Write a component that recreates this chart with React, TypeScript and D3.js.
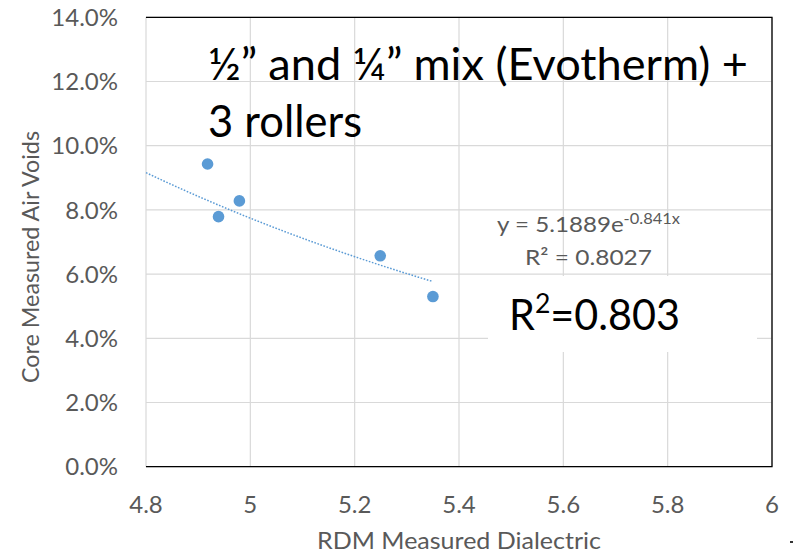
import React from "react";
import * as d3 from "d3";

// RDM dielectric vs. core air voids (fraction)
const dielectric = [4.918, 4.939, 4.979, 5.249, 5.35];
const airVoids = [0.0943, 0.0779, 0.0828, 0.0657, 0.053];

const xTicks = [4.8, 5, 5.2, 5.4, 5.6, 5.8, 6];
const yTicks = [0, 0.02, 0.04, 0.06, 0.08, 0.1, 0.12, 0.14];

// Exponential trendline y = a * e^(b x)
const trendA = 5.1889;
const trendB = -0.841;
const trendRange = [4.8, 5.35];

const titleLines = ["½” and ¼” mix (Evotherm) +", "3 rollers"];
const rSquaredLabel = "0.803";

const W = 794;
const H = 553;
const M = { left: 146, top: 17.3, right: 772, bottom: 466.7 };
const FONT = "Lato, 'Open Sans', sans-serif";
const BLUE = "#5B9BD5";
const GRAY_TEXT = "#595959";
const GRID = "#d9d9d9";

export default function App() {
  const x = d3.scaleLinear().domain([4.8, 6]).range([M.left, M.right]);
  const y = d3.scaleLinear().domain([0, 0.14]).range([M.bottom, M.top]);
  const pct = d3.format(".1%");

  const trendPts = d3.range(0, 41).map((i) => {
    const xv = trendRange[0] + ((trendRange[1] - trendRange[0]) * i) / 40;
    return [xv, trendA * Math.exp(trendB * xv)] as [number, number];
  });
  const line = d3
    .line<[number, number]>()
    .x((d) => x(d[0]))
    .y((d) => y(d[1]));

  return (
    <svg
      width={W}
      height={H}
      style={{ position: "absolute", left: 0, top: 0, background: "#fff" }}
      fontFamily={FONT}
    >
      <rect x={0} y={0} width={W} height={H} fill="#fff" />

      {/* gridlines */}
      {xTicks.map((t) => (
        <line key={"gx" + t} x1={x(t)} x2={x(t)} y1={M.top} y2={M.bottom} stroke={GRID} strokeWidth={1.2} />
      ))}
      {yTicks.map((t) => (
        <line key={"gy" + t} x1={M.left} x2={M.right} y1={y(t)} y2={y(t)} stroke={GRID} strokeWidth={1.2} />
      ))}

      {/* plot frame: top, right, bottom */}
      <path
        d={`M${M.left},${M.top}H${M.right}V${M.bottom}H${M.left}`}
        fill="none"
        stroke="#000"
        strokeWidth={1.3}
      />

      {/* y tick labels */}
      {yTicks.map((t) => (
        <text
          key={"ly" + t}
          x={118}
          y={y(t)}
          dy="0.36em"
          textAnchor="end"
          fontSize={24}
          fill={GRAY_TEXT}
        >
          {pct(t)}
        </text>
      ))}

      {/* x tick labels */}
      {xTicks.map((t) => (
        <text key={"lx" + t} x={x(t)} y={513} textAnchor="middle" fontSize={24} fill={GRAY_TEXT}>
          {String(t)}
        </text>
      ))}

      {/* axis titles */}
      <text
        x={(M.left + M.right) / 2}
        y={549}
        textAnchor="middle"
        fontSize={23}
        fill={GRAY_TEXT}
        textLength={284}
        lengthAdjust="spacingAndGlyphs"
      >
        RDM Measured Dialectric
      </text>
      <text
        transform={`translate(39,${(M.top + M.bottom) / 2 + 15}) rotate(-90)`}
        textAnchor="middle"
        fontSize={23}
        fill={GRAY_TEXT}
        textLength={252}
        lengthAdjust="spacingAndGlyphs"
      >
        Core Measured Air Voids
      </text>

      {/* trendline */}
      <path d={line(trendPts) || ""} fill="none" stroke={BLUE} strokeWidth={1.5} strokeDasharray="1.6 1.6" />

      {/* data points */}
      {dielectric.map((d, i) => (
        <circle key={"p" + i} cx={x(d)} cy={y(airVoids[i])} r={5.8} fill={BLUE} />
      ))}

      {/* trendline equation */}
      <text x={497} y={232} fontSize={22} fill={GRAY_TEXT} textLength={183} lengthAdjust="spacingAndGlyphs">
        y = 5.1889e
        <tspan fontSize={15} dy={-8}>
          -0.841x
        </tspan>
      </text>
      <text x={525} y={265} fontSize={22} fill={GRAY_TEXT} textLength={127} lengthAdjust="spacingAndGlyphs">
        R² = 0.8027
      </text>

      {/* R² box */}
      <rect x={488} y={276} width={269} height={76} fill="#fff" />
      <text x={509} y={330} fontSize={42} fill="#000" textLength={171} lengthAdjust="spacingAndGlyphs">
        R<tspan fontSize={27} dy={-17}>2</tspan>
        <tspan dy={17}>={rSquaredLabel}</tspan>
      </text>

      {/* chart title */}
      {titleLines.map((s, i) => (
        <text
          key={"t" + i}
          x={208}
          y={80 + i * 57}
          fontSize={44}
          fill="#000"
          textLength={i === 0 ? 540 : 154}
          lengthAdjust="spacingAndGlyphs"
        >
          {s}
        </text>
      ))}

      <rect x={790} y={541} width={3} height={2} fill="#333" />
    </svg>
  );
}
